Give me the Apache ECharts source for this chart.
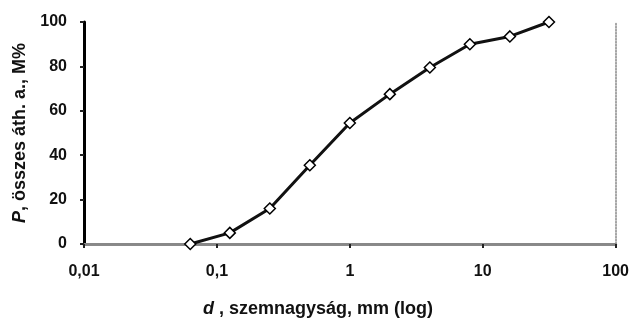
<!DOCTYPE html>
<html>
<head>
<meta charset="utf-8">
<script src="https://cdn.jsdelivr.net/npm/echarts@6/dist/echarts.min.js"></script>
<style>
  html, body { margin: 0; padding: 0; background: #fff; }
  #chart { width: 632px; height: 324px; }
</style>
</head>
<body>
<div id="chart"></div>
<script>
// sieve sizes (mm) and cumulative passing (%)
const sizes = [0.063, 0.125, 0.25, 0.5, 1, 2, 4, 8, 16, 31.5];
const passing = [0, 5, 16, 35.5, 54.5, 67.5, 79.5, 90, 93.5, 100];

const font = "Liberation Sans, Arial, sans-serif";

const myChart = echarts.init(document.getElementById("chart"));
myChart.setOption({
  animation: false,
  grid: { left: 84, right: 16, top: 22, bottom: 80 },
  xAxis: [
    {
      type: "log",
      logBase: 10,
      min: 0.01,
      max: 100,
      axisLine: { show: true, lineStyle: { color: "#8a8a8a", width: 3 } },
      axisTick: { show: true, length: 4, lineStyle: { color: "#222", width: 2 } },
      splitLine: { show: false },
      axisLabel: {
        margin: 20,
        fontFamily: font,
        fontSize: 16,
        fontWeight: "bold",
        color: "#111",
        formatter(value) {
          const v = parseFloat(Number(value).toPrecision(6));
          return String(v).replace(".", ",");
        },
      },
    },
    {
      type: "log",
      logBase: 10,
      min: 0.01,
      max: 100,
      position: "top",
      axisLine: { show: true, lineStyle: { color: "#888", width: 1.5 } },
      axisTick: { show: false },
      axisLabel: { show: false },
      splitLine: { show: false },
    },
  ],
  yAxis: [
    {
      type: "value",
      min: 0,
      max: 100,
      interval: 20,
      name: "{i|P}, összes áth. a., M%",
      nameLocation: "middle",
      nameGap: 47,
      nameTextStyle: {
        fontFamily: font,
        fontSize: 18,
        fontWeight: "bold",
        color: "#111",
        rich: {
          i: { fontFamily: font, fontSize: 18, fontWeight: "bold", fontStyle: "italic", color: "#111" },
        },
      },
      axisLine: { show: true, lineStyle: { color: "#000", width: 3 } },
      axisTick: { show: true, length: 4, lineStyle: { color: "#222", width: 2 } },
      splitLine: { show: false },
      axisLabel: { margin: 17, fontFamily: font, fontSize: 16, fontWeight: "bold", color: "#111" },
    },
    {
      type: "value",
      min: 0,
      max: 100,
      interval: 20,
      position: "right",
      axisLine: { show: true, lineStyle: { color: "#888", width: 1.5, type: "dotted" } },
      axisTick: { show: false },
      axisLabel: { show: false },
      splitLine: { show: false },
    },
  ],
  graphic: [
    {
      type: "text",
      x: 318,
      y: 309,
      style: {
        text: "{i|d} , szemnagyság, mm (log)",
        textAlign: "center",
        textVerticalAlign: "middle",
        font: "bold 18px " + font,
        fill: "#111",
        rich: {
          i: { fontFamily: font, fontSize: 18, fontWeight: "bold", fontStyle: "italic", fill: "#111" },
        },
      },
    },
  ],
  series: [
    {
      type: "line",
      data: sizes.map((s, i) => [s, passing[i]]),
      symbol: "diamond",
      symbolSize: 11,
      lineStyle: { color: "#111", width: 3 },
      itemStyle: { color: "#fff", borderColor: "#000", borderWidth: 1.5 },
      z: 5,
    },
  ],
});
</script>
</body>
</html>
